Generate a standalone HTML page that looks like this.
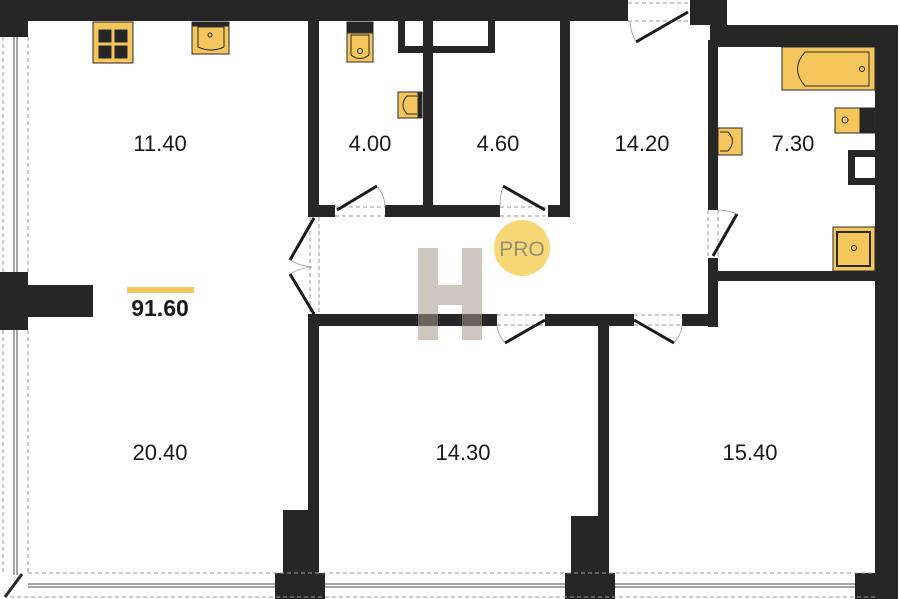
<!DOCTYPE html>
<html><head><meta charset="utf-8"><style>
html,body{margin:0;padding:0;background:#fff;}
svg{display:block;}
text{font-family:"Liberation Sans",sans-serif;}
</style></head><body>
<svg width="900" height="599" viewBox="0 0 900 599" xmlns="http://www.w3.org/2000/svg">
<g fill="#262626">
<rect x="0" y="0" width="628" height="21"/>
<rect x="690" y="0" width="37" height="25"/>
<rect x="710" y="25" width="188" height="22"/>
<rect x="875" y="25" width="23" height="574"/>
<rect x="0" y="0" width="28" height="37"/>
<rect x="0" y="272" width="28" height="58"/>
<rect x="28" y="285" width="65" height="32"/>
<rect x="308" y="20" width="11" height="197"/>
<rect x="423" y="20" width="10" height="190"/>
<rect x="560" y="20" width="10" height="197"/>
<rect x="708" y="40" width="10" height="170"/>
<rect x="708" y="258" width="10" height="69"/>
<rect x="398" y="20" width="7" height="33"/>
<rect x="488" y="20" width="7" height="33"/>
<rect x="398" y="46" width="97" height="7"/>
<rect x="308" y="205" width="27" height="12"/>
<rect x="385" y="205" width="115" height="12"/>
<rect x="548" y="205" width="22" height="12"/>
<rect x="308" y="314" width="189" height="12"/>
<rect x="545" y="314" width="89" height="12"/>
<rect x="682" y="314" width="36" height="12"/>
<rect x="718" y="271" width="157" height="10"/>
<rect x="308" y="314" width="11" height="200"/>
<rect x="283" y="510" width="36" height="89"/>
<rect x="275" y="573" width="50" height="26"/>
<rect x="598" y="320" width="11" height="200"/>
<rect x="571" y="516" width="38" height="83"/>
<rect x="565" y="573" width="50" height="26"/>
<rect x="855" y="573" width="43" height="26"/>
</g>
<g stroke="#999" stroke-width="1" fill="none" stroke-dasharray="4,3">
<line x1="3" y1="37" x2="3" y2="272"/><line x1="28" y1="37" x2="28" y2="272"/>
<line x1="3" y1="330" x2="3" y2="575"/><line x1="28" y1="330" x2="28" y2="575"/>
<line x1="28" y1="573" x2="875" y2="573"/><line x1="10" y1="597" x2="875" y2="597"/>
<line x1="628" y1="3" x2="690" y2="3"/><line x1="628" y1="21" x2="690" y2="21"/>
<line x1="335" y1="207" x2="385" y2="207"/><line x1="335" y1="216" x2="385" y2="216"/>
<line x1="500" y1="207" x2="548" y2="207"/><line x1="500" y1="216" x2="548" y2="216"/>
<line x1="310" y1="217" x2="310" y2="314"/><line x1="319" y1="217" x2="319" y2="314"/>
<line x1="497" y1="315" x2="545" y2="315"/><line x1="497" y1="325" x2="545" y2="325"/>
<line x1="634" y1="315" x2="682" y2="315"/><line x1="634" y1="325" x2="682" y2="325"/>
<line x1="708" y1="210" x2="708" y2="258"/><line x1="718" y1="210" x2="718" y2="258"/>
</g>
<g stroke="#888" stroke-width="1.5">
<line x1="14" y1="37" x2="14" y2="272"/><line x1="17" y1="37" x2="17" y2="272"/>
<line x1="14" y1="330" x2="14" y2="575"/><line x1="17" y1="330" x2="17" y2="575"/>
<line x1="28" y1="584" x2="275" y2="584"/><line x1="28" y1="587" x2="275" y2="587"/>
<line x1="325" y1="584" x2="565" y2="584"/><line x1="325" y1="587" x2="565" y2="587"/>
<line x1="615" y1="584" x2="855" y2="584"/><line x1="615" y1="587" x2="855" y2="587"/>
</g>
<line x1="5" y1="597" x2="22" y2="574" stroke="#262626" stroke-width="3"/>
<g stroke="#1a1a1a" stroke-width="3" fill="none">
<line x1="337" y1="210" x2="377" y2="186"/>
<line x1="545" y1="210" x2="503" y2="186"/>
<line x1="688" y1="12" x2="636" y2="42"/>
<line x1="314" y1="218" x2="290" y2="260"/>
<line x1="314" y1="314" x2="290" y2="274"/>
<line x1="545" y1="320" x2="505" y2="343"/>
<line x1="634" y1="320" x2="674" y2="343"/>
<line x1="713" y1="256" x2="737" y2="214"/>
</g>
<g stroke="#999" stroke-width="0.8" fill="none">
<path d="M377 186 Q385 196 385 207"/><path d="M503 186 Q500 196 500 207"/>
<path d="M636 42 Q630 30 630 21"/><path d="M290 260 Q300 266 312 267"/>
<path d="M290 274 Q300 268 312 267"/><path d="M505 343 Q497 333 497 325"/>
<path d="M674 343 Q682 333 682 325"/><path d="M737 214 Q728 210 718 210"/>
</g>
<g stroke="#2a2a2a" stroke-width="1">
<rect x="93" y="22" width="40" height="41" fill="#f5c65c"/>
<rect x="99" y="30" width="12" height="12" fill="#262626"/><rect x="115" y="30" width="12" height="12" fill="#262626"/>
<rect x="99" y="46" width="12" height="12" fill="#262626"/><rect x="115" y="46" width="12" height="12" fill="#262626"/>
<rect x="192" y="22" width="37" height="32" fill="#f5c65c"/>
<rect x="192" y="22" width="37" height="4" fill="#262626"/>
<path d="M198 27 L224 27 L224 47 Q211 53 198 47 Z" fill="#f5c65c"/>
<circle cx="210" cy="35" r="2" fill="none"/>
<rect x="347" y="22" width="26" height="40" fill="#f5c65c"/>
<rect x="347" y="22" width="26" height="11" fill="#262626"/>
<path d="M351 35 L369 35 L369 55 Q360 62 351 55 Z" fill="#f5c65c"/>
<circle cx="360" cy="51" r="2.5" fill="none"/>
<rect x="398" y="92" width="20" height="26" fill="#f5c65c"/>
<rect x="418" y="92" width="4" height="26" fill="#262626"/>
<path d="M417 96 L407 96 Q399 105 407 114 L417 114" fill="none"/>
<rect x="782" y="47" width="93" height="43" fill="#f5c65c"/>
<path d="M805 52 L869 52 L869 86 L805 86 Q790 69 805 52 Z" fill="#f5c65c"/>
<circle cx="862" cy="69" r="2.5" fill="none"/>
<rect x="835" y="108" width="25" height="25" fill="#f5c65c"/>
<rect x="860" y="108" width="15" height="25" fill="#262626"/>
<circle cx="845" cy="120" r="3" fill="none"/>
<rect x="718" y="128" width="24" height="27" fill="#f5c65c"/>
<path d="M720 132 L728 132 Q737 141 728 151 L720 151" fill="none"/>
<rect x="833" y="227" width="42" height="44" fill="#f5c65c"/>
<rect x="837" y="232" width="33" height="34" fill="none" stroke-width="2"/>
<circle cx="854" cy="248" r="2.5" fill="none"/>
</g>
<g fill="#262626"><rect x="848" y="150" width="27" height="35"/></g>
<rect x="855" y="157" width="20" height="21" fill="#fff"/>
<g opacity="0.55">
<rect x="418" y="248" width="20" height="92" fill="#a69a8e"/>
<rect x="462" y="248" width="20" height="92" fill="#a69a8e"/>
<rect x="438" y="285" width="24" height="20" fill="#a69a8e"/>
</g>
<circle cx="522" cy="248" r="28" fill="#f8d777"/>
<text x="522" y="256" font-size="21" fill="#9a8e74" text-anchor="middle">PRO</text>
<g font-size="22" fill="#1a1a1a" text-anchor="middle">
<text x="160" y="151">11.40</text>
<text x="370" y="151">4.00</text>
<text x="498" y="151">4.60</text>
<text x="642" y="151">14.20</text>
<text x="793" y="151">7.30</text>
<text x="160" y="460">20.40</text>
<text x="463" y="460">14.30</text>
<text x="750" y="460">15.40</text>
<text x="160" y="316" font-weight="bold" font-size="23">91.60</text>
</g>
<rect x="127" y="287" width="67" height="6" fill="#f5c65c"/>
</svg>
</body></html>
